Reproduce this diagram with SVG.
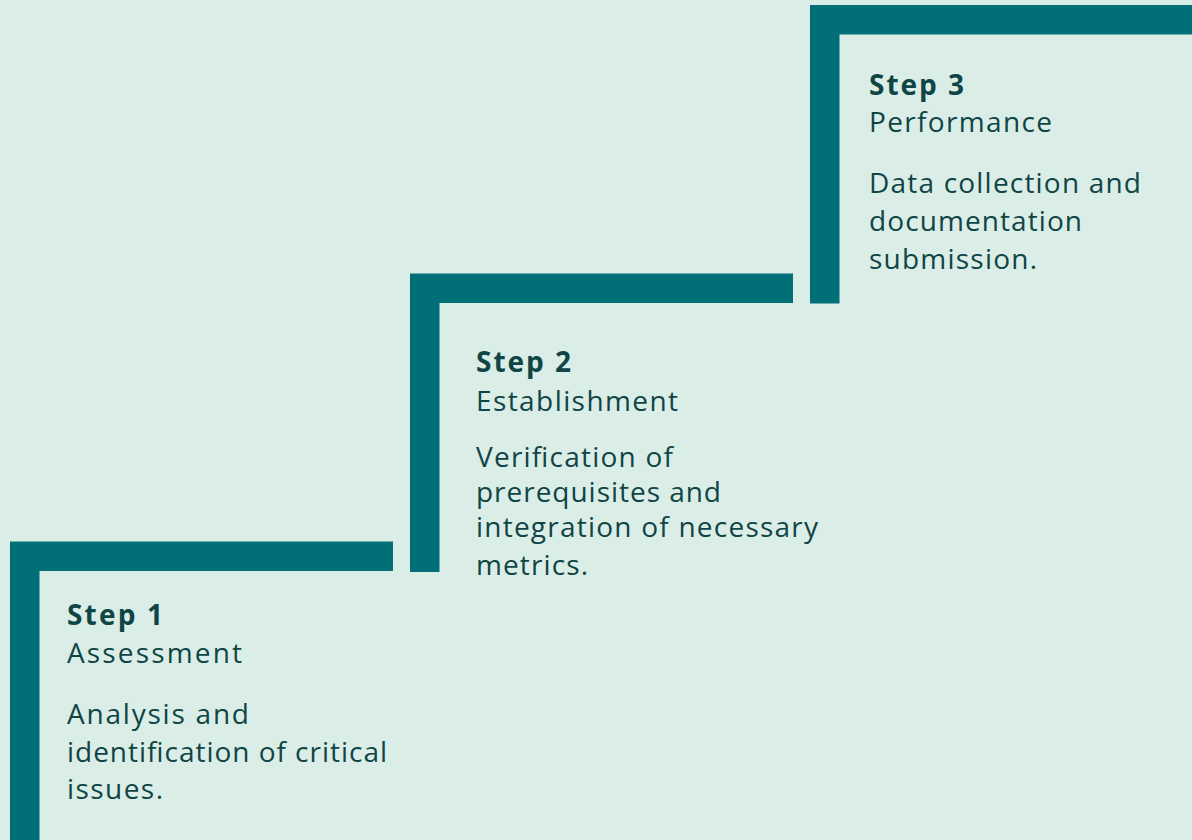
<svg xmlns="http://www.w3.org/2000/svg" width="1192" height="840" viewBox="0 0 1192 840">
<style>
.bar{fill:#006f78}
.t{font-family:"Open Sans","Noto Sans","Liberation Sans",sans-serif;font-size:28px;fill:#0f4545}
.b{font-weight:bold}
</style>
<rect x="0" y="0" width="1192" height="840" fill="#dbede7"/>
<g id="step1">
<path class="bar" d="M10,541.5 H393 V571 H39.5 V840 H10 Z"/>
<text class="t b" x="67" y="625" textLength="96" lengthAdjust="spacing">Step 1</text>
<text class="t" x="67" y="663" textLength="175" lengthAdjust="spacing">Assessment</text>
<text class="t" x="67" y="724" textLength="182" lengthAdjust="spacing">Analysis and</text>
<text class="t" x="67" y="762" textLength="320" lengthAdjust="spacing">identification of critical</text>
<text class="t" x="67" y="799" textLength="96" lengthAdjust="spacing">issues.</text>
</g>
<g id="step2">
<path class="bar" d="M410,273.5 H793 V303 H439.5 V572 H410 Z"/>
<text class="t b" x="476" y="372" textLength="95" lengthAdjust="spacing">Step 2</text>
<text class="t" x="476" y="411" textLength="202" lengthAdjust="spacing">Establishment</text>
<text class="t" x="476" y="467" textLength="197" lengthAdjust="spacing">Verification of</text>
<text class="t" x="476" y="502" textLength="245" lengthAdjust="spacing">prerequisites and</text>
<text class="t" x="476" y="537" textLength="342" lengthAdjust="spacing">integration of necessary</text>
<text class="t" x="476" y="575" textLength="112" lengthAdjust="spacing">metrics.</text>
</g>
<g id="step3">
<path class="bar" d="M810,5 H1192 V34.5 H839.5 V303.5 H810 Z"/>
<text class="t b" x="869" y="95" textLength="95" lengthAdjust="spacing">Step 3</text>
<text class="t" x="869" y="132" textLength="183" lengthAdjust="spacing">Performance</text>
<text class="t" x="869" y="193" textLength="272" lengthAdjust="spacing">Data collection and</text>
<text class="t" x="869" y="231" textLength="213" lengthAdjust="spacing">documentation</text>
<text class="t" x="869" y="269" textLength="168" lengthAdjust="spacing">submission.</text>
</g>
<g id="connectors"/>
</svg>
